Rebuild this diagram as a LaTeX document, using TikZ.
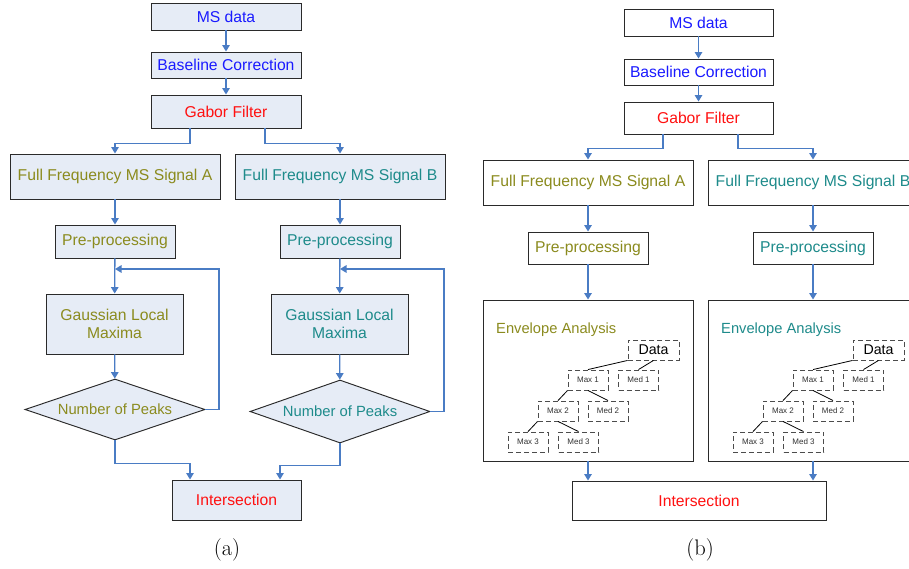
\documentclass[tikz,border=0pt]{standalone}
\usepackage{fontspec}
\newfontfamily\boxfont{Liberation Sans}
\usetikzlibrary{shapes.geometric,arrows.meta,calc}

\definecolor{flowblue}{HTML}{4A7CC4}
\definecolor{boxfill}{HTML}{E6ECF6}
\definecolor{boxline}{HTML}{2A2A2A}
\definecolor{txtblue}{HTML}{1A1AFF}
\definecolor{txtred}{HTML}{FF1010}
\definecolor{txtolive}{HTML}{8B8B1E}
\definecolor{txtteal}{HTML}{1E8B8B}

\tikzset{
  every node/.style={font=\boxfont\fontsize{15.7}{18}\selectfont},
  procbox/.style={draw=boxline, line width=0.95pt, inner sep=0pt, align=center},
  filledbox/.style={procbox, fill=boxfill},
  plainbox/.style={procbox, fill=white},
  decision/.style={diamond, aspect=2.95, draw=boxline, line width=0.95pt, fill=boxfill, inner sep=0pt,
    font=\boxfont\fontsize{14.8}{17}\selectfont},
  arr/.style={draw=flowblue, line width=1.3pt, -{Triangle[length=6.5pt,width=7.5pt]}},
  treebox/.style={draw=black!70, dash pattern=on 5pt off 3pt, line width=0.9pt, inner sep=0pt,
    minimum width=40pt, minimum height=20pt, text=black!80, font=\boxfont\fontsize{8}{9}\selectfont},
  treeedge/.style={draw=black, line width=0.8pt},
  caption/.style={font=\fontsize{22.5}{26}\selectfont}
}

\begin{document}
\begin{tikzpicture}[x=1pt,y=-1pt]
\clip (0,0) rectangle (909,569);
\fill[white] (0,0) rectangle (909,569);

% ---------------- (a) Gaussian local maxima pipeline ----------------
\node[filledbox, minimum width=150pt, minimum height=27pt, text=txtblue] (msA) at (226,16.5) {MS data};
\node[filledbox, minimum width=150pt, minimum height=26pt, text=txtblue] (blA) at (226,65) {Baseline Correction};
\node[filledbox, minimum width=150pt, minimum height=33pt, text=txtred] (gfA) at (226,111.5) {Gabor Filter};
\node[filledbox, minimum width=210pt, minimum height=45pt, text=txtolive] (ffaA) at (115,176.5) {Full Frequency MS Signal A};
\node[filledbox, minimum width=210pt, minimum height=45pt, text=txtteal] (ffbA) at (340,176.5) {Full Frequency MS Signal B};
\node[filledbox, minimum width=120pt, minimum height=33pt, text=txtolive] (ppaA) at (115,241.5) {Pre-processing};
\node[filledbox, minimum width=120pt, minimum height=33pt, text=txtteal] (ppbA) at (340,241.5) {Pre-processing};
\node[filledbox, minimum width=137pt, minimum height=60pt, text=txtolive] (glaA) at (114.5,324) {Gaussian Local\\Maxima};
\node[filledbox, minimum width=137pt, minimum height=60pt, text=txtteal] (glbA) at (339.5,324) {Gaussian Local\\Maxima};
\node[decision, minimum width=180pt, minimum height=61pt, text=txtolive] (dA) at (115,409.5) {Number of Peaks};
\node[decision, minimum width=180pt, minimum height=63pt, text=txtteal] (dB) at (340,411.5) {Number of Peaks};
\node[filledbox, minimum width=129pt, minimum height=40pt, text=txtred] (inA) at (236.5,500) {Intersection};
\node[caption] (capA) at (227,550) {(a)};

\coordinate (loopA) at (219,269);
\coordinate (loopB) at (444,269);

\draw[arr] (msA) -- (blA);
\draw[arr] (blA) -- (gfA);
\draw[arr] ([xshift=-36pt]gfA.south) -- ++(0,15) -| (ffaA.north);
\draw[arr] ([xshift=39pt]gfA.south) -- ++(0,15) -| (ffbA.north);
\draw[arr] (ffaA) -- (ppaA);
\draw[arr] (ffbA) -- (ppbA);
\draw[arr] (ppaA) -- (glaA);
\draw[arr] (ppbA) -- (glbA);
\draw[arr] (glaA) -- (dA);
\draw[arr] (glbA) -- (dB);
\draw[arr] (dA.east) -| (loopA) -- (loopA -| ppaA.south);
\draw[arr] (dB.east) -| (loopB) -- (loopB -| ppbA.south);
\draw[arr] (dA.south) -- ++(0,23) -| ([xshift=-46.5pt]inA.north);
\draw[arr] (dB.south) -- ++(0,22) -| ([xshift=43.5pt]inA.north);

% ---------------- (b) envelope analysis pipeline ----------------
\node[plainbox, minimum width=149pt, minimum height=27pt, text=txtblue] (msB) at (698.5,22.5) {MS data};
\node[plainbox, minimum width=149pt, minimum height=26pt, text=txtblue] (blB) at (698.5,72) {Baseline Correction};
\node[plainbox, minimum width=149pt, minimum height=32pt, text=txtred] (gfB) at (698.5,118) {Gabor Filter};
\node[plainbox, minimum width=210pt, minimum height=45pt, text=txtolive] (ffaB) at (588,182.5) {Full Frequency MS Signal A};
\node[plainbox, minimum width=210pt, minimum height=45pt, text=txtteal] (ffbB) at (813,182.5) {Full Frequency MS Signal B};
\node[plainbox, minimum width=120pt, minimum height=32pt, text=txtolive] (ppaB) at (588,248) {Pre-processing};
\node[plainbox, minimum width=120pt, minimum height=32pt, text=txtteal] (ppbB) at (813,248) {Pre-processing};
\node[plainbox, minimum width=210pt, minimum height=161pt] (envA) at (588,380.5) {};
\node[plainbox, minimum width=210pt, minimum height=161pt] (envB) at (813,380.5) {};
\node[plainbox, minimum width=254pt, minimum height=39pt, text=txtred] (inB) at (699,500.5) {Intersection};
\node[caption] (capB) at (700,550) {(b)};

\node[anchor=west, inner sep=0pt, text=txtolive, font=\boxfont\fontsize{14.7}{17}\selectfont] (eaA) at (496,330) {Envelope Analysis};
\node[anchor=west, inner sep=0pt, text=txtteal, font=\boxfont\fontsize{14.7}{17}\selectfont] (eaB) at (721,330) {Envelope Analysis};

% envelope trees
\foreach \p/\dx in {a/0, b/225} {
  \node[treebox, minimum width=51pt, text=black, font=\boxfont\fontsize{14.2}{16}\selectfont] (data\p) at (653.5+\dx,350) {Data};
  \node[treebox] (maxone\p) at (588+\dx,380) {Max 1};
  \node[treebox] (medone\p) at (638.5+\dx,380) {Med 1};
  \node[treebox] (maxtwo\p) at (558+\dx,411) {Max 2};
  \node[treebox] (medtwo\p) at (608+\dx,411) {Med 2};
  \node[treebox] (maxthree\p) at (528+\dx,442) {Max 3};
  \node[treebox] (medthree\p) at (578.5+\dx,442) {Med 3};
  \draw[treeedge] (data\p.south west) -- (maxone\p.north);
  \draw[treeedge] (data\p.south) -- (medone\p.north);
  \draw[treeedge] (maxone\p.south west) -- (maxtwo\p.north);
  \draw[treeedge] (maxone\p.south) -- (medtwo\p.north);
  \draw[treeedge] (maxtwo\p.south west) -- (maxthree\p.north);
  \draw[treeedge] (maxtwo\p.south) -- (medthree\p.north);
}

\draw[arr] (msB) -- (blB);
\draw[arr] (blB) -- (gfB);
\draw[arr] ([xshift=-35.5pt]gfB.south) -- ++(0,14) -| (ffaB.north);
\draw[arr] ([xshift=39.5pt]gfB.south) -- ++(0,14) -| (ffbB.north);
\draw[arr] (ffaB) -- (ppaB);
\draw[arr] (ffbB) -- (ppbB);
\draw[arr] (ppaB) -- (envA);
\draw[arr] (ppbB) -- (envB);
\draw[arr] (envA.south) -- (envA.south |- inB.north);
\draw[arr] (envB.south) -- (envB.south |- inB.north);
\end{tikzpicture}
\end{document}
